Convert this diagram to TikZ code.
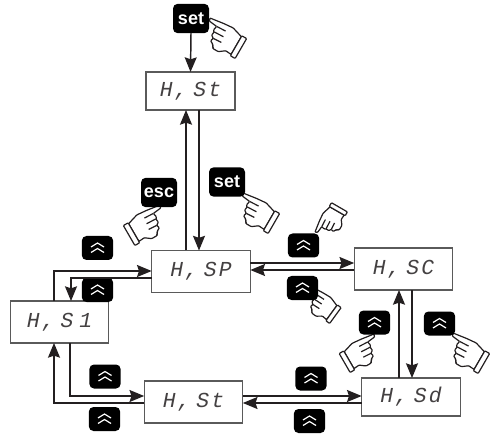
\documentclass[tikz,border=0pt]{standalone}
\usepackage{fontspec}
\usepackage{xcolor}
\usepackage{tikz}
\usetikzlibrary{arrows.meta, calc}
\setmainfont{Liberation Sans}
\newfontfamily\dspfont[LetterSpace=10,WordSpace=0.4]{Liberation Mono}
\definecolor{dspink}{HTML}{231F20}
\definecolor{dspframe}{HTML}{5A5A5A}
\newcommand{\dbchevron}[1]{%
    \begin{scope}[sharp corners, shift={(path picture bounding box.center)}, yscale=#1]
        \draw[white, line width=0.9pt] (-6.5,-1) -- (0,-5) -- (6.5,-1);
        \draw[white, line width=0.9pt] (-6.5,4.5) -- (0,0.5) -- (6.5,4.5);
    \end{scope}}
\tikzset{
    dspbox/.style={draw=dspframe, line width=0.8pt, fill=white, minimum width=74pt, minimum height=31.5pt, inner sep=0pt, outer sep=0pt, text=dspink!85, font=\dspfont\itshape\fontsize{16}{16}\selectfont},
    keybtn/.style={fill=black, rounded corners=3.5pt, inner sep=0pt, outer sep=0pt, minimum width=23.5pt, minimum height=18pt},
    txtbtn/.style={keybtn, minimum width=27pt, minimum height=22pt, text=white, font=\bfseries\fontsize{13.5}{13.5}\selectfont},
    upbtn/.style={keybtn, path picture={\dbchevron{1}}},
    dnbtn/.style={keybtn, path picture={\dbchevron{-1}}},
    flow/.style={draw=dspink, line width=1.1pt, -{Stealth[length=11pt, width=9pt, inset=1.5pt]}},
    pics/fingerhand/.style={code={
        \draw[draw=dspink, fill=white, line width=0.9pt, rounded corners=0.6pt]
            (0,0) -- (14,-2) -- (25,-3) -- (36.5,0.5) -- (36.5,21) -- (30,20.5) -- (24,25) -- (18,25)
            -- (15,21) -- (12,19.5) -- (13,16) -- (10,14) -- (10.5,10.5) -- (9,8) -- (10,4) -- (1,3) -- cycle;
        \draw[draw=dspink, line width=0.9pt] (10,4) -- (20,3.5) (10.5,10) -- (21,9.5) (13,16) -- (22,15.5) (18,25) -- (15,21);
        \draw[draw=dspink, fill=white, line width=0.9pt, rounded corners=0.6pt] (36.5,-0.5) rectangle (42,22.5);
    }}
}

\begin{document}
\begin{tikzpicture}[x=0.75pt, y=-0.75pt]
    \useasboundingbox (0,0) rectangle (490,435);
    % Hands
    \pic[rotate=-30] at (210,18) {fingerhand};
    \pic[rotate=-30] at (243,193) {fingerhand};
    \pic[rotate=210, yscale=-1] at (160,205) {fingerhand};
    \pic[rotate=60, scale=0.8] at (315,232) {fingerhand};
    \pic[rotate=-36, scale=0.85] at (312,287) {fingerhand};
    \pic[rotate=210, yscale=-1, scale=0.95] at (374,334) {fingerhand};
    \pic[rotate=-30] at (453,333) {fingerhand};

    % Displays
    \node[dspbox, minimum width=66.75pt, minimum height=28.5pt] (boxtop) at (190.5,91) {H, St};
    \node[dspbox] (boxsp) at (201,271.5) {H, SP};
    \node[dspbox] (boxsi) at (59.5,322) {H, S 1};
    \node[dspbox] (boxsc) at (403.5,269) {H, SC};
    \node[dspbox, minimum height=28.5pt] (boxsd) at (411,397) {H, Sd};
    \node[dspbox] (boxst) at (193.5,402) {H, St};

    % Keys
    \node[txtbtn] (keyset) at (191,18.5) {set};
    \node[txtbtn] (keysetb) at (227,182) {set};
    \node[txtbtn] (keyesc) at (159,192.5) {esc};
    \node[upbtn] (upsi) at (97.5,248) {};
    \node[dnbtn] (dnsi) at (97.5,290) {};
    \node[upbtn] (upsc) at (303.5,245.5) {};
    \node[dnbtn] (dnsc) at (302.5,288) {};
    \node[dnbtn] (dnsd) at (374.5,322.5) {};
    \node[upbtn] (upsd) at (439.5,323.5) {};
    \node[upbtn] (upst) at (105,376.5) {};
    \node[dnbtn] (dnst) at (104.5,419) {};
    \node[upbtn] (upstb) at (311,378.5) {};
    \node[dnbtn] (dnstb) at (309.5,421) {};

    % Connectors
    \draw[flow] (keyset.south) -- (boxtop.north);
    \draw[flow] (boxsp.north -| 186,0) -- (boxtop.south -| 186,0);
    \draw[flow] (boxtop.south -| 199,0) -- (boxsp.north -| 199,0);
    \draw[flow] (boxsi.north -| 54,0) |- (boxsp.west |- 0,271);
    \draw[flow] (boxsp.west |- 0,278) -| (boxsi.north -| 71,0);
    \draw[flow] (boxsp.east |- 0,263) -- (boxsc.west |- 0,263);
    \draw[flow] (boxsc.west |- 0,270) -- (boxsp.east |- 0,270);
    \draw[flow] (boxsd.north -| 399,0) -- (boxsc.south -| 399,0);
    \draw[flow] (boxsc.south -| 412,0) -- (boxsd.north -| 412,0);
    \draw[flow] (boxsi.south -| 70,0) |- (boxst.west |- 0,396);
    \draw[flow] (boxst.west |- 0,403) -| (boxsi.south -| 54,0);
    \draw[flow] (boxst.east |- 0,396) -- (boxsd.west |- 0,396);
    \draw[flow] (boxsd.west |- 0,403) -- (boxst.east |- 0,403);
\end{tikzpicture}
\end{document}
